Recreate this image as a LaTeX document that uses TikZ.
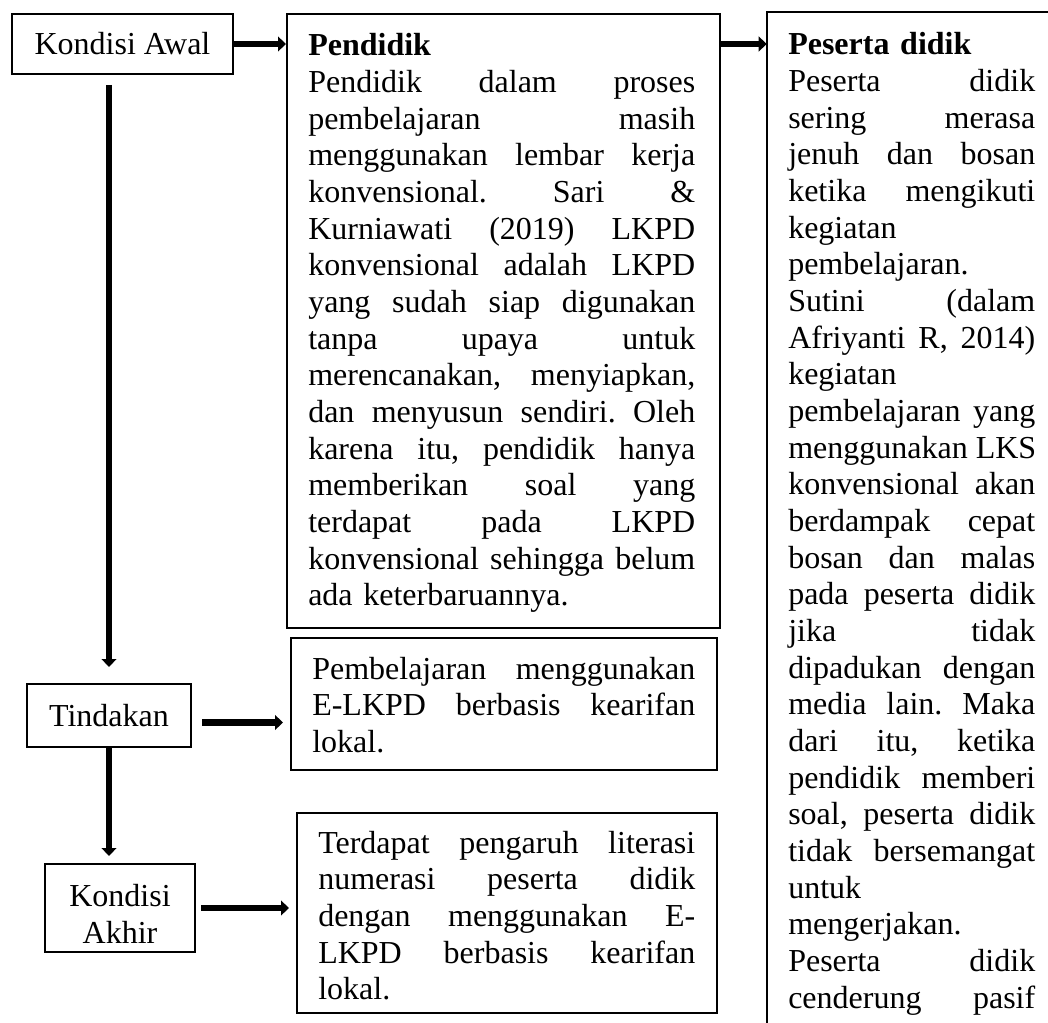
\documentclass[tikz,border=0pt]{standalone}
\usepackage{fontspec}
\setmainfont{Liberation Serif}
\usetikzlibrary{arrows.meta,fit,calc}
\newcommand{\bigtxt}{\fontsize{24pt}{27.5pt}\selectfont\frenchspacing}
\newcommand{\cw}{100pt}
\newcommand{\jline}[1]{\leavevmode\hbox to \cw{\spaceskip=0.25em plus 1fil\xspaceskip=0.25em plus 1fil\relax #1}}
\newcommand{\jl}[1]{\jline{#1}\\}
\begin{document}
\begin{tikzpicture}[x=0.75pt,y=-0.75pt,
  box/.style={draw, line width=1.5pt, inner sep=0pt},
  lbl/.style={box, font=\bigtxt, align=center},
  txt/.style={inner sep=0pt, font=\bigtxt, anchor=base west},
  arr/.style={line width=5pt, -{Triangle[width=11pt,length=6pt]}}]
\useasboundingbox (0,0) rectangle (1048,1023);

% left column boxes
\node[lbl, minimum width=165.75pt, minimum height=45pt] (ka) at (122.5,44) {Kondisi Awal};
\node[lbl, minimum width=123pt, minimum height=47.25pt] (tin) at (109,715.5) {Tindakan};
\node[lbl, minimum width=112.5pt, minimum height=66pt] (kak) at (120,908) {\rule{0pt}{25.5pt}Kondisi\\Akhir};

% big boxes
\node[box, fit={(287,14) (720,628)}] (pen) {};
\node[box, fit={(291,638) (717,770)}] (pem) {};
\node[box, fit={(297,813) (717,1013)}] (ter) {};
\node[inner sep=0pt, fit={(767,12) (1070,1100)}] (pes) {};
\draw[line width=1.5pt] (pes.south west) -- (pes.north west) -- (pes.north east);

% texts
\node[txt, text width=290.25pt] (pentxt) at (308,56) {\renewcommand{\cw}{290.25pt}%
\textbf{Pendidik}\\
\jl{Pendidik dalam proses}
\jl{pembelajaran masih}
\jl{menggunakan lembar kerja}
\jl{konvensional. Sari \&}
\jl{Kurniawati (2019) LKPD}
\jl{konvensional adalah LKPD}
\jl{yang sudah siap digunakan}
\jl{tanpa upaya untuk}
\jl{merencanakan, menyiapkan,}
\jl{dan menyusun sendiri. Oleh}
\jl{karena itu, pendidik hanya}
\jl{memberikan soal yang}
\jl{terdapat pada LKPD}
\jl{konvensional sehingga belum}
ada keterbaruannya.};

\node[txt, text width=185.25pt] (pestxt) at (788,55) {\renewcommand{\cw}{185.25pt}%
\textbf{Peserta didik}\\
\jl{Peserta didik}
\jl{sering merasa}
\jl{jenuh dan bosan}
\jl{ketika mengikuti}
kegiatan\\
pembelajaran.\\
\jl{Sutini (dalam}
\jl{Afriyanti R, 2014)}
kegiatan\\
\jl{pembelajaran yang}
\jl{menggunakan LKS}
\jl{konvensional akan}
\jl{berdampak cepat}
\jl{bosan dan malas}
\jl{pada peserta didik}
\jl{jika tidak}
\jl{dipadukan dengan}
\jl{media lain. Maka}
\jl{dari itu, ketika}
\jl{pendidik memberi}
\jl{soal, peserta didik}
\jl{tidak bersemangat}
untuk\\
mengerjakan.\\
\jl{Peserta didik}
\jline{cenderung pasif}};

\node[txt, text width=287.25pt] (pemtxt) at (312,679) {\renewcommand{\cw}{287.25pt}%
\jl{Pembelajaran menggunakan}
\jl{E-LKPD berbasis kearifan}
lokal.};

\node[txt, text width=282.75pt] (tertxt) at (318,853) {\renewcommand{\cw}{282.75pt}%
\jl{Terdapat pengaruh literasi}
\jl{numerasi peserta didik}
\jl{dengan menggunakan E-}
\jl{LKPD berbasis kearifan}
lokal.};

% connectors
\draw[arr] (ka.east) -- (ka.east -| pen.west);
\draw[arr] (ka.east -| pen.east) -- (ka.east -| pes.west);
\draw[arr, shorten <=7.5pt, shorten >=12pt] (ka.south -| tin.north) -- (tin.north);
\draw[arr, shorten <=7.5pt, shorten >=5.25pt] ($(tin.east)+(0,7)$) -- ($(tin.east -| pem.west)+(0,7)$);
\draw[arr, shorten >=5.25pt] (tin.south) -- (tin.south |- kak.north);
\draw[arr, shorten <=3.75pt, shorten >=5.25pt] (kak.east) -- (kak.east -| ter.west);
\end{tikzpicture}
\end{document}
